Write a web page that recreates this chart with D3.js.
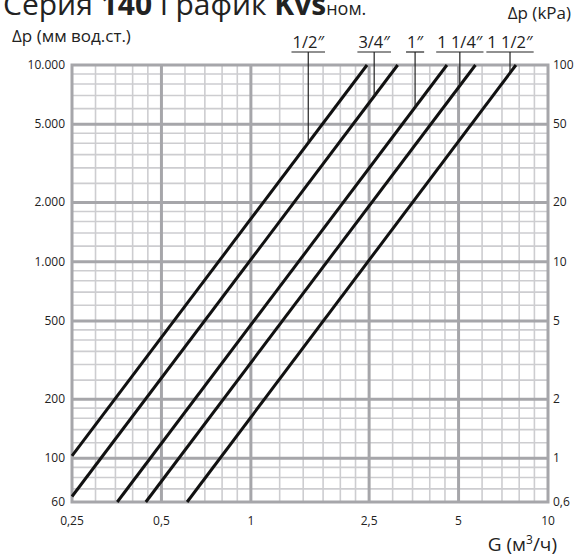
<!DOCTYPE html>
<html>
<head>
<meta charset="utf-8">
<script src="https://cdn.jsdelivr.net/npm/d3@7"></script>
<style>
body { margin: 0; background: #fff; }
text { font-family: "Open Sans", "DejaVu Sans", sans-serif; fill: #222; }
</style>
</head>
<body>
<script>
// sizes and their Kvs lines, read as two end points [G, dp] in mm w.c.
var sizes = ["1/2\u2033", "3/4\u2033", "1\u2033", "1 1/4\u2033", "1 1/2\u2033"];
var lineEnds = [
  [[0.25, 103], [2.46, 10000]],
  [[0.25, 64], [3.12, 10000]],
  [[0.355, 60], [4.57, 10000]],
  [[0.443, 60], [5.7, 10000]],
  [[0.61, 60], [7.8, 10000]]
];
// G where the label leader meets each line
var leaderG = [1.56, 2.6, 3.57, 5.05, 7.45];

var xTicks = [0.25, 0.5, 1, 2.5, 5, 10];
var xTickLabels = ["0,25", "0,5", "1", "2,5", "5", "10"];
var xMinor = [0.3, 0.35, 0.4, 0.45, 0.6, 0.7, 0.8, 0.9, 1.25, 1.5, 1.75, 2, 2.25, 3, 3.5, 4, 4.5, 6, 7, 8, 9];

var yTicks = [60, 100, 200, 500, 1000, 2000, 5000, 10000];
var yTickLabels = ["60", "100", "200", "500", "1.000", "2.000", "5.000", "10.000"];
var kpaLabels = ["0,6", "1", "2", "5", "10", "20", "50", "100"];
var yMinor = [70, 80, 90, 120, 140, 160, 180, 250, 300, 350, 400, 450, 600, 700, 800, 900,
  1200, 1400, 1600, 1800, 2500, 3000, 3500, 4000, 4500, 6000, 7000, 8000, 9000];

var width = 576, height = 556;
var pLeft = 72, pRight = 548, pTop = 65, pBottom = 502;

var svg = d3.select("body").append("svg")
  .attr("width", width)
  .attr("height", height);

var x = d3.scaleLog().domain([0.25, 10]).range([pLeft, pRight]);
var y = d3.scaleLog().domain([60, 10000]).range([pBottom, pTop]);

// minor grid
svg.selectAll(".vmin").data(xMinor).enter().append("line")
  .attr("x1", d => x(d)).attr("x2", d => x(d))
  .attr("y1", pTop).attr("y2", pBottom)
  .attr("stroke", "#cdcdd0").attr("stroke-width", 1.6);
svg.selectAll(".hmin").data(yMinor).enter().append("line")
  .attr("y1", d => y(d)).attr("y2", d => y(d))
  .attr("x1", pLeft).attr("x2", pRight)
  .attr("stroke", "#cdcdd0").attr("stroke-width", 1.6);

// major grid
svg.selectAll(".vmaj").data(xTicks.slice(1, -1)).enter().append("line")
  .attr("x1", d => x(d)).attr("x2", d => x(d))
  .attr("y1", pTop).attr("y2", pBottom)
  .attr("stroke", "#a6a6aa").attr("stroke-width", 3);
svg.selectAll(".hmaj").data(yTicks.slice(1, -1)).enter().append("line")
  .attr("y1", d => y(d)).attr("y2", d => y(d))
  .attr("x1", pLeft).attr("x2", pRight)
  .attr("stroke", "#a6a6aa").attr("stroke-width", 3);

svg.append("rect")
  .attr("x", pLeft).attr("y", pTop)
  .attr("width", pRight - pLeft).attr("height", pBottom - pTop)
  .attr("fill", "none").attr("stroke", "#a6a6aa").attr("stroke-width", 3);

// tick labels
svg.selectAll(".xl").data(xTicks).enter().append("text")
  .attr("x", d => x(d)).attr("y", 525)
  .attr("text-anchor", "middle").attr("font-size", 12)
  .text((d, i) => xTickLabels[i]);
svg.selectAll(".yl").data(yTicks).enter().append("text")
  .attr("x", 65).attr("y", d => y(d) + 4)
  .attr("text-anchor", "end").attr("font-size", 12)
  .text((d, i) => yTickLabels[i]);
svg.selectAll(".kl").data(yTicks).enter().append("text")
  .attr("x", 553).attr("y", d => y(d) + 4)
  .attr("font-size", 12)
  .text((d, i) => kpaLabels[i]);

// Kvs lines
var line = d3.line().x(d => x(d[0])).y(d => y(d[1]));
svg.selectAll(".kvs").data(lineEnds).enter().append("path")
  .attr("d", line)
  .attr("fill", "none").attr("stroke", "#111").attr("stroke-width", 3);

// labels with leaders
function dpAt(ends, g) {
  var a = ends[0], b = ends[1];
  var t = Math.log(g / a[0]) / Math.log(b[0] / a[0]);
  return Math.exp(Math.log(a[1]) + t * Math.log(b[1] / a[1]));
}
sizes.forEach(function(s, i) {
  var gx = x(leaderG[i]);
  var t = svg.append("text")
    .attr("x", gx).attr("y", 48)
    .attr("text-anchor", "middle").attr("font-size", 16.5)
    .text(s);
  var w = t.node().getComputedTextLength();
  svg.append("line")
    .attr("x1", gx - w / 2 - 1).attr("x2", gx + w / 2 + 1)
    .attr("y1", 52).attr("y2", 52)
    .attr("stroke", "#222").attr("stroke-width", 1.2);
  svg.append("line")
    .attr("x1", gx).attr("x2", gx)
    .attr("y1", 52).attr("y2", y(dpAt(lineEnds[i], leaderG[i])))
    .attr("stroke", "#222").attr("stroke-width", 1.2);
});

// titles
var title = svg.append("text").attr("x", 3).attr("y", 15).attr("font-size", 30);
title.append("tspan").text("Серия ");
title.append("tspan").attr("font-weight", "bold").text("140");
title.append("tspan").text(" График ");
title.append("tspan").attr("font-weight", "bold").text("Kvs");
title.append("tspan").attr("font-size", 18).text("ном.");

svg.append("text").attr("x", 12).attr("y", 42).attr("font-size", 17)
  .text("Δp (мм вод.ст.)");
svg.append("text").attr("x", 571).attr("y", 19).attr("font-size", 17)
  .attr("text-anchor", "end").text("Δp (kPa)");
var gl = svg.append("text").attr("x", 557).attr("y", 551).attr("font-size", 19)
  .attr("text-anchor", "end");
gl.append("tspan").text("G (м");
gl.append("tspan").attr("font-size", 12).attr("dy", -7).text("3");
gl.append("tspan").attr("dy", 7).text("/ч)");
</script>
</body>
</html>
